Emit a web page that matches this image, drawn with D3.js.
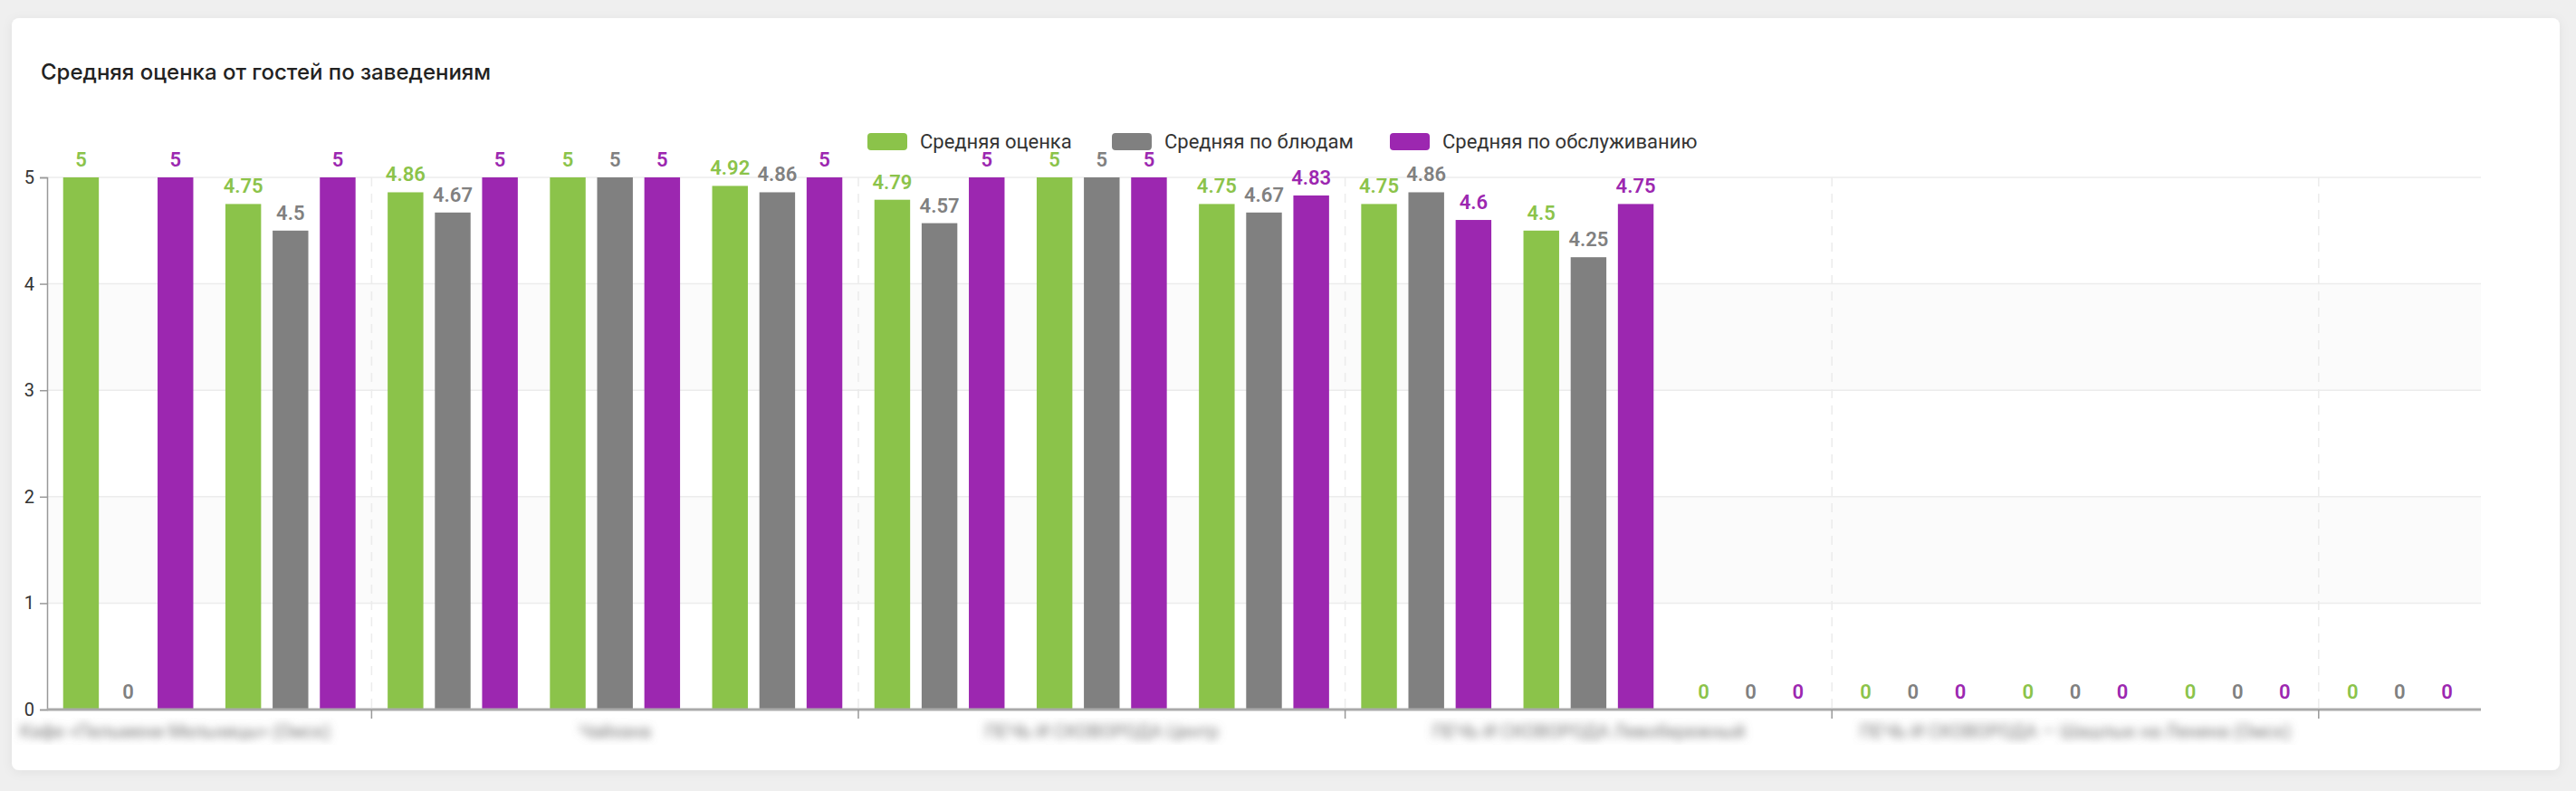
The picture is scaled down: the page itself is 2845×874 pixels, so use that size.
<!DOCTYPE html>
<html>
<head>
<meta charset="utf-8">
<script src="https://cdn.jsdelivr.net/npm/d3@7"></script>
<style>
  html, body { margin: 0; padding: 0; background: #efefef; }
  #chart { width: 2845px; height: 874px; }
  text { font-family: Roboto, "Noto Sans", sans-serif; }
  .title { font-family: Inter, "Noto Sans", sans-serif; font-weight: 500; font-size: 24px; fill: #222; }
  .legend text { font-size: 22px; fill: #333; }
  .y.axis text { font-size: 20px; fill: #333; }
  .y.axis path, .y.axis line { stroke: #999; }
  .value { font-size: 22px; font-weight: 600; }
  .cat-label { font-size: 20px; fill: #777; }
</style>
</head>
<body>
<div id="chart"></div>
<script>
// Data
var categories = [
  "Кафе «Пельмени Мельницы» (Омск)", "Пекарня на Мира", "Кафе «Уют»",
  "Чайхана", "Бистро Центр", "Кофейня Левый берег",
  "ПЕЧЬ И СКОВОРОДА Центр", "ПЕЧЬ И СКОВОРОДА Сибирская", "Гриль-бар",
  "ПЕЧЬ И СКОВОРОДА Левобережный", "Столовая №1", "Бургерная",
  "ПЕЧЬ И СКОВОРОДА — Шашлык на Ленина (Омск)", "Суши-бар", "Пиццерия"
];
var seriesNames = ["Средняя оценка", "Средняя по блюдам", "Средняя по обслуживанию"];
var avgTotal   = [5, 4.75, 4.86, 5, 4.92, 4.79, 5, 4.75, 4.75, 4.5, 0, 0, 0, 0, 0];
var avgDishes  = [0, 4.5, 4.67, 5, 4.86, 4.57, 5, 4.67, 4.86, 4.25, 0, 0, 0, 0, 0];
var avgService = [5, 5, 5, 5, 5, 5, 5, 4.83, 4.6, 4.75, 0, 0, 0, 0, 0];
var yTicks = [0, 1, 2, 3, 4, 5];
var labelIdx = [0, 3, 6, 9, 12];
var tickIdx = [2, 5, 8, 11, 14];

var COLORS = ["#8bc34a", "#808080", "#9c27b0"];
var seriesValues = [avgTotal, avgDishes, avgService];

var W = 2845, H = 874;
var margins = { left: 52, right: 105, top: 196, bottom: 90 };
var chartWidth = W - margins.left - margins.right;
var chartHeight = H - margins.top - margins.bottom;

var svg = d3.select("#chart").append("svg")
  .attr("width", W).attr("height", H);

// Card
var defs = svg.append("defs");
var shadow = defs.append("filter").attr("id", "shadow")
  .attr("x", "-5%").attr("y", "-5%").attr("width", "110%").attr("height", "110%");
shadow.append("feDropShadow").attr("dx", 0).attr("dy", 2)
  .attr("stdDeviation", 6).attr("flood-color", "#000").attr("flood-opacity", 0.06);
defs.append("filter").attr("id", "blur")
  .append("feGaussianBlur").attr("stdDeviation", 5);

svg.append("rect")
  .attr("x", 13).attr("y", 20).attr("width", 2814).attr("height", 831)
  .attr("rx", 8).attr("fill", "#fff").attr("filter", "url(#shadow)");

svg.append("text").attr("class", "title")
  .attr("x", 45).attr("y", 88)
  .text("Средняя оценка от гостей по заведениям");

// Scales
var data = categories.map(function(c, i) {
  return {
    label: c,
    values: seriesValues.map(function(arr, s) { return { s: s, v: arr[i] }; })
  };
});

var xScale = d3.scaleBand().domain(categories).range([0, chartWidth]).padding(0);
var xInner = d3.scaleBand().domain([0, 1, 2]).range([0, xScale.bandwidth()])
  .paddingInner(0.244).paddingOuter(0.34);
var yScale = d3.scaleLinear().domain([0, 5]).range([chartHeight, 0]);

var chart = svg.append("g")
  .attr("transform", "translate(" + margins.left + "," + margins.top + ")");

// Split areas
chart.append("g").selectAll("rect")
  .data(yTicks.slice(0, -1))
  .enter().append("rect")
  .attr("x", 0).attr("width", chartWidth)
  .attr("y", function(d) { return yScale(d + 1); })
  .attr("height", function(d) { return yScale(d) - yScale(d + 1); })
  .attr("fill", function(d) { return d % 2 ? "#fbfbfb" : "#fff"; });

// Horizontal grid
chart.append("g").selectAll("line")
  .data(yTicks.slice(1))
  .enter().append("line")
  .attr("x1", 0).attr("x2", chartWidth)
  .attr("y1", function(d) { return yScale(d); })
  .attr("y2", function(d) { return yScale(d); })
  .attr("stroke", "#ececec").attr("stroke-width", 1.5);

// Vertical dashed split lines
chart.append("g").selectAll("line")
  .data(tickIdx)
  .enter().append("line")
  .attr("x1", function(k) { return xScale(categories[k]); })
  .attr("x2", function(k) { return xScale(categories[k]); })
  .attr("y1", 0).attr("y2", chartHeight)
  .attr("stroke", "#ececec").attr("stroke-width", 1.5)
  .attr("stroke-dasharray", "10,8");

// Y axis
var yAxis = d3.axisLeft(yScale).tickValues(yTicks).tickSize(8).tickPadding(6)
  .tickFormat(d3.format("d"));
var yG = chart.append("g").attr("class", "y axis").call(yAxis);
yG.select(".domain").attr("stroke-width", 1.5);
yG.selectAll(".tick line").attr("stroke-width", 1.5);

// Bars
var groups = chart.selectAll(".bar-group")
  .data(data).enter().append("g")
  .attr("class", "bar-group")
  .attr("transform", function(d) { return "translate(" + xScale(d.label) + ",0)"; });

groups.selectAll("rect")
  .data(function(d) { return d.values; })
  .enter().append("rect")
  .attr("x", function(d) { return xInner(d.s); })
  .attr("width", xInner.bandwidth())
  .attr("y", function(d) { return yScale(d.v); })
  .attr("height", function(d) { return chartHeight - yScale(d.v); })
  .attr("fill", function(d) { return COLORS[d.s]; });

groups.selectAll("text")
  .data(function(d) { return d.values; })
  .enter().append("text")
  .attr("class", "value")
  .attr("text-anchor", "middle")
  .attr("x", function(d) { return xInner(d.s) + xInner.bandwidth() / 2; })
  .attr("y", function(d) { return yScale(d.v) - 12; })
  .attr("fill", function(d) { return COLORS[d.s]; })
  .text(function(d) { return d.v; });

// X axis
chart.append("line")
  .attr("x1", 0).attr("x2", chartWidth)
  .attr("y1", chartHeight).attr("y2", chartHeight)
  .attr("stroke", "#aaa").attr("stroke-width", 3);

chart.append("g").selectAll("line")
  .data(tickIdx)
  .enter().append("line")
  .attr("x1", function(k) { return xScale(categories[k]); })
  .attr("x2", function(k) { return xScale(categories[k]); })
  .attr("y1", chartHeight).attr("y2", chartHeight + 10)
  .attr("stroke", "#999").attr("stroke-width", 1.5);

// Category labels (blurred, as in the source)
chart.append("g").attr("filter", "url(#blur)").selectAll("text")
  .data(labelIdx)
  .enter().append("text")
  .attr("class", "cat-label")
  .attr("text-anchor", "middle")
  .attr("y", chartHeight + 31)
  .text(function(k) { return categories[k]; })
  .attr("x", function(k) {
    var w = this.getComputedTextLength();
    var cx = xScale(categories[k]) + xScale.bandwidth() / 2;
    return Math.max(cx, -30 + w / 2);
  });

// Legend
var legendX = [958, 1228, 1535];
var legend = svg.append("g").attr("class", "legend")
  .selectAll("g").data(seriesNames).enter().append("g")
  .attr("transform", function(d, i) { return "translate(" + legendX[i] + ",147)"; });

legend.append("rect")
  .attr("width", 44).attr("height", 19).attr("rx", 4)
  .attr("fill", function(d, i) { return COLORS[i]; });

legend.append("text")
  .attr("x", 58).attr("y", 17)
  .text(function(d) { return d; });
</script>
</body>
</html>
